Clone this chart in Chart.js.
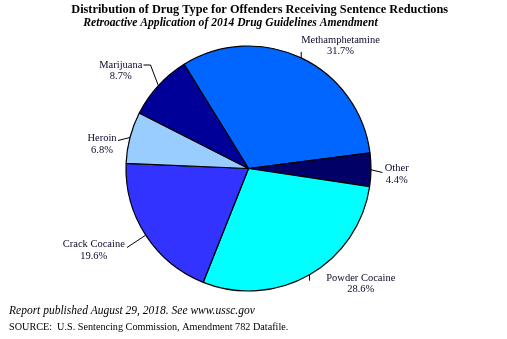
<!DOCTYPE html>
<html>
<head>
<meta charset="utf-8">
<script src="https://cdn.jsdelivr.net/npm/chart.js@4/dist/chart.umd.min.js"></script>
<style>
  body { margin: 0; background: #fff; }
  #wrap { width: 507px; height: 339px; }
</style>
</head>
<body>
<div id="wrap"><canvas id="graficoDrogas" width="507" height="339"></canvas></div>
<script>
// Data (percent of offenders)
const drugTypes = ['Methamphetamine', 'Other', 'Powder Cocaine', 'Crack Cocaine', 'Heroin', 'Marijuana'];
const drugShares = [31.7, 4.4, 28.6, 19.6, 6.8, 8.7];
const sliceColors = ['#0066ff', '#000066', '#00ffff', '#3333ff', '#99ccff', '#000099'];

const titleText = 'Distribution of Drug Type for Offenders Receiving Sentence Reductions';
const subtitleText = 'Retroactive Application of 2014 Drug Guidelines Amendment';
const noteText = 'Report published August 29, 2018. See www.ussc.gov';
const sourceText = 'SOURCE:  U.S. Sentencing Commission, Amendment 782 Datafile.';

// Label placement: text center x, first baseline y, leader points after the arc edge
const labelLayout = [
  { x: 340.5, y: 42.5, leader: [[0, -6]], rel: true },
  { x: 396.7, y: 171, leader: [[382.5, 172.5]] },
  { x: 360.8, y: 280.5, leader: [[0, 6]], rel: true },
  { x: 93.8, y: 247, leader: [[127, 247.5]] },
  { x: 102, y: 141, leader: [[118, 140.5]] },
  { x: 120.8, y: 67.5, leader: [[150.5, 65], [143.5, 65]] },
];

const serif = '"Liberation Serif", "Times New Roman", serif';

const textPlugin = {
  id: 'textPlugin',
  afterDraw(chart) {
    const ctx = chart.ctx;
    const arcs = chart.getDatasetMeta(0).data;
    ctx.save();
    ctx.fillStyle = '#000';
    ctx.textAlign = 'center';
    ctx.textBaseline = 'alphabetic';
    ctx.font = `bold 12.3px ${serif}`;
    ctx.fillText(titleText, 259.7, 13);
    ctx.font = `italic bold 11.6px ${serif}`;
    ctx.fillText(subtitleText, 230.5, 26);

    // slice labels + leader lines
    ctx.strokeStyle = '#000';
    ctx.lineWidth = 1;
    arcs.forEach((arc, i) => {
      const { x, y, startAngle, endAngle, outerRadius } = arc.getProps(['x', 'y', 'startAngle', 'endAngle', 'outerRadius'], true);
      const mid = (startAngle + endAngle) / 2;
      const ex = x + Math.cos(mid) * outerRadius;
      const ey = y + Math.sin(mid) * outerRadius;
      const lay = labelLayout[i];
      ctx.beginPath();
      ctx.moveTo(ex, ey);
      lay.leader.forEach(([px, py]) => {
        if (lay.rel) ctx.lineTo(ex + px, ey + py);
        else ctx.lineTo(px, py);
      });
      ctx.stroke();

      ctx.fillStyle = '#0a0a2a';
      ctx.font = `10.5px ${serif}`;
      ctx.fillText(drugTypes[i], lay.x, lay.y);
      ctx.fillText(drugShares[i].toFixed(1) + '%', lay.x, lay.y + 11.5);
    });

    ctx.fillStyle = '#000';
    ctx.textAlign = 'left';
    ctx.font = `italic 11.5px ${serif}`;
    ctx.fillText(noteText, 9, 314);
    ctx.font = `10.2px ${serif}`;
    ctx.fillText(sourceText, 9, 330);
    ctx.restore();
  },
};

const ctx = document.getElementById('graficoDrogas').getContext('2d');
new Chart(ctx, {
  type: 'pie',
  data: {
    labels: drugTypes,
    datasets: [{
      data: drugShares,
      backgroundColor: sliceColors,
      borderColor: '#000',
      borderWidth: 1.2,
      radius: 122.5,
    }],
  },
  options: {
    responsive: false,
    animation: false,
    rotation: -31.7,
    layout: { padding: { left: 0, right: 10, top: 0, bottom: 2 } },
    plugins: { legend: { display: false }, tooltip: { enabled: false }, title: { display: false } },
  },
  plugins: [textPlugin],
});
</script>
</body>
</html>
